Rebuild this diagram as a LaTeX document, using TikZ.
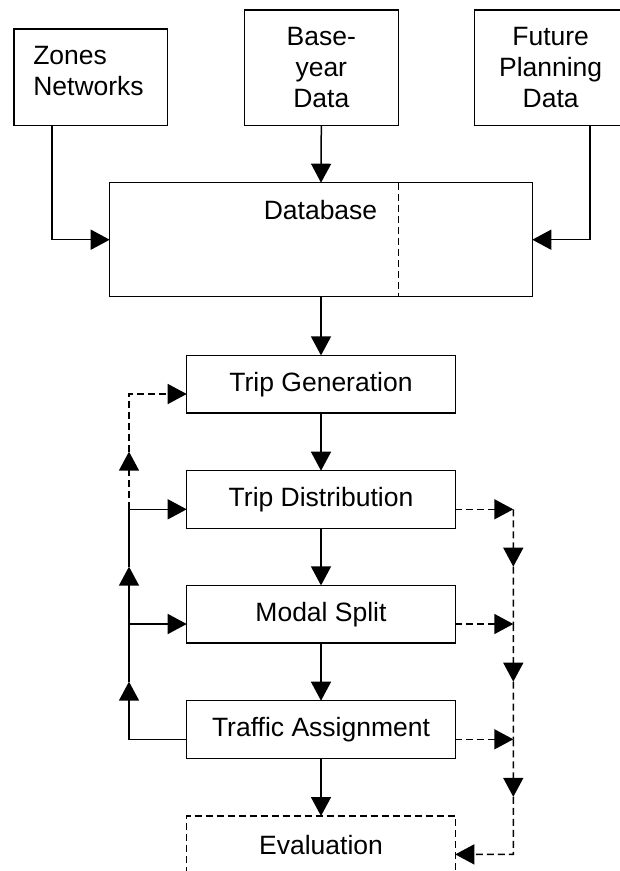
\documentclass[tikz,border=0pt]{standalone}
\usepackage{fontspec}
\setmainfont{Liberation Sans}
\usetikzlibrary{arrows.meta,calc}
\begin{document}
\begin{tikzpicture}[x=1pt,y=-1pt,
  fnt/.style={font=\fontsize{26.5}{31}\selectfont},
  box/.style={draw, line width=1.5pt, rectangle, outer sep=0pt, inner sep=0pt, fnt, align=center},
  midbox/.style={box, minimum width=268.6pt, minimum height=57.6pt},
  txt/.style={inner sep=0pt, outer sep=0pt, fnt},
  ln/.style={line width=1.5pt},
  arr/.style={line width=1.5pt, -{Triangle[length=19pt,width=20pt]}},
  dsh/.style={dash pattern=on 7pt off 4pt}
]
\useasboundingbox (0,0) rectangle (620,871);
\clip (0,0) rectangle (620,871);

% top boxes
\node[box, minimum width=153.7pt, minimum height=96.3pt] (zones) at (90.85,77.15) {};
\node[txt, anchor=north west, align=left] (zonest) at (33.3,46.7) {Zones\\Networks};
\node[box, minimum width=154pt, minimum height=115.3pt] (base) at (321.3,67.65) {Base-\\year\\Data};
\node[box, minimum width=152.7pt, minimum height=115.3pt] (future) at (550.65,67.65) {Future\\Planning\\Data};

% database
\node[box, minimum width=422.6pt, minimum height=114pt] (db) at (321,239.7) {};
\node[txt, anchor=north] (dbt) at (320.5,200) {Database};
\draw[ln,dsh] (base.east |- db.north) -- (base.east |- db.south);

% model steps
\node[midbox] (tg) at (321,384.2) {Trip Generation};
\node[midbox] (td) at (321,499.5) {Trip Distribution};
\node[midbox] (ms) at (321,614.2) {Modal Split};
\node[midbox] (ta) at (321,729.5) {Traffic Assignment};
\node[txt, minimum width=268.6pt, minimum height=58pt] (ev) at (321,845) {Evaluation};
\draw[ln,dsh] (ev.south west) -- (ev.north west) -- (ev.north east) -- (ev.south east);

% inputs
\draw[arr] ([xshift=-38.85pt]zones.south) |- (db.west);
\draw[arr] ([xshift=39.35pt]future.south) |- (db.east);
\draw[arr] (base.south) -- (db.north);

% main chain
\draw[arr] (db.south) -- (tg.north);
\draw[arr] (tg.south) -- (td.north);
\draw[arr] (td.south) -- (ms.north);
\draw[arr] (ms.south) -- (ta.north);
\draw[arr] (ta.south) -- (ev.north);

% helper coordinates
\coordinate (lx) at (129,0);
\coordinate (rx) at (513.3,0);
\coordinate (tgL) at ([yshift=-9.8pt]tg.west);
\coordinate (tdL) at ([yshift=-9.8pt]td.west);
\coordinate (msL) at ([yshift=-9.8pt]ms.west);
\coordinate (taL) at ([yshift=-9.8pt]ta.west);
\coordinate (tdR) at ([yshift=-9.8pt]td.east);
\coordinate (msR) at ([yshift=-9.8pt]ms.east);
\coordinate (taR) at ([yshift=-9.8pt]ta.east);
\coordinate (evR) at ([yshift=-9.4pt]ev.east);
\coordinate (lTG) at (lx |- tgL);
\coordinate (lTD) at (lx |- tdL);
\coordinate (lMS) at (lx |- msL);
\coordinate (lTA) at (lx |- taL);
\coordinate (rTD) at (rx |- tdR);
\coordinate (rMS) at (rx |- msR);
\coordinate (rTA) at (rx |- taR);
\coordinate (rEV) at (rx |- evR);
\coordinate (lm1) at ($(lTA)!0.5!(lMS)$);
\coordinate (lm2) at ($(lMS)!0.5!(lTD)$);
\coordinate (lm3) at ($(lTD)!0.5!(lTG)$);
\coordinate (rm1) at ($(rTD)!0.5!(rMS)$);
\coordinate (rm2) at ($(rMS)!0.5!(rTA)$);
\coordinate (rm3) at ($(rTA)!0.5!(rEV)$);

% left feedback loop
\draw[arr] (taL) -- (lTA) -- (lm1);
\draw[ln] (lm1) -- (lMS);
\draw[arr] (lMS) -- (msL);
\draw[arr] (lMS) -- (lm2);
\draw[ln] (lm2) -- (lTD);
\draw[arr] (lTD) -- (tdL);
\draw[arr,dsh] (lTD) -- (lm3);
\draw[arr,dsh] (lm3) -- (lTG) -- (tgL);

% right loop to evaluation
\draw[arr,dsh] (tdR) -- (rTD);
\draw[arr,dsh] (rTD) -- (rm1);
\draw[ln,dsh] (rm1) -- (rMS);
\draw[arr,dsh] (msR) -- (rMS);
\draw[arr,dsh] (rMS) -- (rm2);
\draw[ln,dsh] (rm2) -- (rTA);
\draw[arr,dsh] (taR) -- (rTA);
\draw[arr,dsh] (rTA) -- (rm3);
\draw[arr,dsh] (rm3) -- (rEV) -- (evR);
\end{tikzpicture}
\end{document}
